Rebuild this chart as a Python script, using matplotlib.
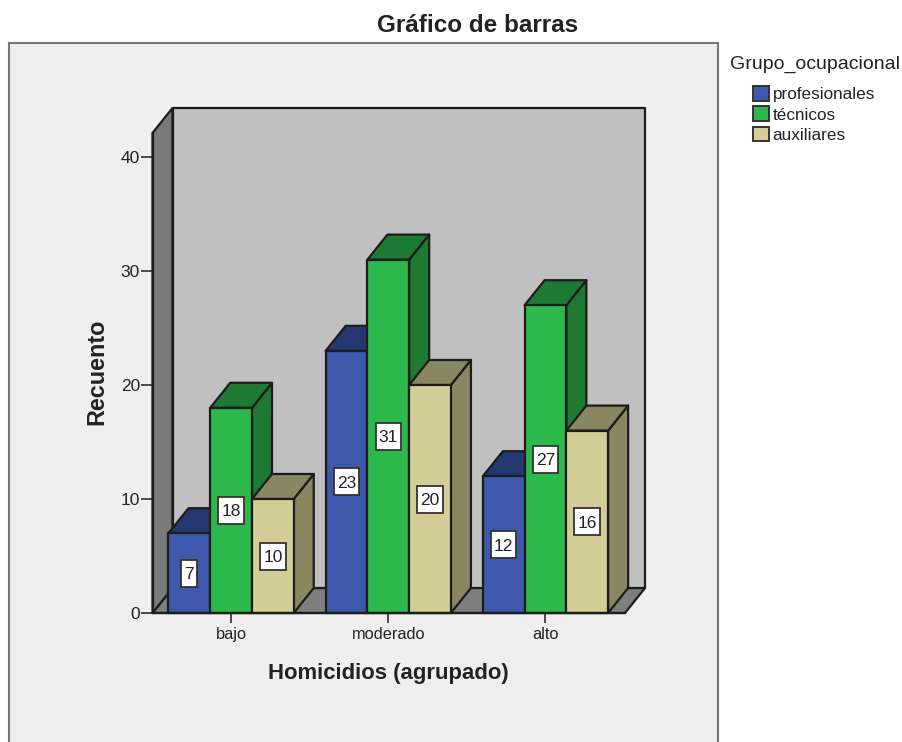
import matplotlib
matplotlib.use("Agg")
import matplotlib.pyplot as plt
from matplotlib.patches import Patch, Polygon, Rectangle
from matplotlib.lines import Line2D

# --- Data ---
categories = ["bajo", "moderado", "alto"]
groups = ["profesionales", "técnicos", "auxiliares"]
profesionales = [7, 23, 12]
tecnicos = [18, 31, 27]
auxiliares = [10, 20, 16]

# --- Colours ---
front_colors = ["#3E58AC", "#2DB84B", "#D3CE97"]
top_colors = ["#24376F", "#1E7A32", "#8A8662"]
side_colors = ["#24376F", "#1E7A32", "#8A8662"]
EDGE = "#1c1c1c"
TEXT = "#222222"

plt.rcParams["font.family"] = ["Liberation Sans", "DejaVu Sans"]

W, H = 902, 742
fig = plt.figure(figsize=(W / 100, H / 100), dpi=100, facecolor="white")

def fx(px):
    return px / W

def fy(py):
    return 1 - py / H

# --- Grey panel, open at the bottom edge ---
fig.patches.append(Rectangle((fx(9), 0), fx(709), fy(43), transform=fig.transFigure,
                             facecolor="#EFEFEF", edgecolor="none", zorder=-5))
for xs, ys in [((9, 9), (43, 742)), ((9, 718), (43, 43)), ((718, 718), (43, 742))]:
    fig.add_artist(Line2D([fx(x) for x in xs], [fy(y) for y in ys], color="#777777", lw=1.5))

# --- Axes covers the front plane of the 3D box ---
ax = fig.add_axes([fx(152.5), fy(613), fx(625 - 152.5), fy(133) - fy(613)])
ax.patch.set_visible(False)
ymax = (613 - 133) / 11.4
ax.set_xlim(-0.5, 2.506)
ax.set_ylim(0, ymax)

# depth of the box in data units
DX = 20 / 157
DY = 25 / 11.4
BAR_W = 41.7 / 157
xmin, xmax = ax.get_xlim()

def box(pts, color, z):
    ax.add_patch(Polygon(pts, closed=True, facecolor=color, edgecolor=EDGE, lw=1.6,
                         joinstyle="round", zorder=z, clip_on=False))

# walls
box([(xmin, 0), (xmin + DX, DY), (xmax + DX, DY), (xmax, 0)], "#7F7F7F", 1)
box([(xmin, 0), (xmin, ymax), (xmin + DX, ymax + DY), (xmin + DX, DY)], "#7A7A7A", 1)
box([(xmin + DX, DY), (xmin + DX, ymax + DY), (xmax + DX, ymax + DY), (xmax + DX, DY)], "#C0C0C0", 1)

# bars, left to right so each one covers the side of the one before
series = [profesionales, tecnicos, auxiliares]
z = 2
for c in range(len(categories)):
    for s, values in enumerate(series):
        v = values[c]
        x0 = c + (s - 1.5) * BAR_W
        x1 = x0 + BAR_W
        box([(x1, 0), (x1 + DX, DY), (x1 + DX, v + DY), (x1, v)], side_colors[s], z)
        box([(x0, v), (x0 + DX, v + DY), (x1 + DX, v + DY), (x1, v)], top_colors[s], z)
        box([(x0, 0), (x0, v), (x1, v), (x1, 0)], front_colors[s], z)
        z += 1

# value labels: white boxes as tall as SPSS draws them, width follows the digits
for c in range(len(categories)):
    for s, values in enumerate(series):
        v = values[c]
        xc = c + (s - 1) * BAR_W
        w = (len(str(v)) * 9.7 + 6) / 157
        h = 27 / 11.4
        ax.add_patch(Rectangle((xc - w / 2, v / 2 - h / 2), w, h, facecolor="white",
                               edgecolor="#333333", lw=1.3, zorder=49))
        ax.text(xc, v / 2, str(v), ha="center", va="center_baseline", fontsize=12.5,
                color=TEXT, zorder=50)

# --- Axes furniture ---
for name in ["top", "right"]:
    ax.spines[name].set_visible(False)
for name in ["left", "bottom"]:
    ax.spines[name].set_color(EDGE)
    ax.spines[name].set_linewidth(1.6)
    ax.spines[name].set_zorder(40)
ax.set_xticks(range(len(categories)))
ax.set_xticklabels(categories)
ax.set_yticks([0, 10, 20, 30, 40])
ax.tick_params(axis="x", length=7.5, width=1.1, color=EDGE, labelsize=11.8, labelcolor=TEXT, pad=2.5)
ax.tick_params(axis="y", length=8.5, width=1.1, color=EDGE, labelsize=12.5, labelcolor=TEXT, pad=0.5)

fig.text(fx(388), fy(673.5), "Homicidios (agrupado)", ha="center", va="center",
         fontsize=15.9, fontweight="bold", color=TEXT)
fig.text(fx(97), fy(372), "Recuento", ha="center", va="center", rotation=90,
         fontsize=16.8, fontweight="bold", color=TEXT)
fig.text(fx(478), fy(25.5), "Gráfico de barras", ha="center", va="center",
         fontsize=17.5, fontweight="bold", color=TEXT)

# --- Legend ---
fig.text(fx(730), fy(64), "Grupo_ocupacional", ha="left", va="center", fontsize=14, color=TEXT)
handles = [Patch(facecolor=front_colors[i], edgecolor="#333333", lw=1.4, label=groups[i])
           for i in range(len(groups))]
fig.legend(handles=handles, loc="upper left", bbox_to_anchor=(fx(753), fy(86)), frameon=False,
           fontsize=12.3, labelcolor=TEXT, handlelength=0.95, handleheight=0.95, handletextpad=0.2,
           labelspacing=0.24, borderpad=0, borderaxespad=0)

fig.savefig("out.png", dpi=100)
